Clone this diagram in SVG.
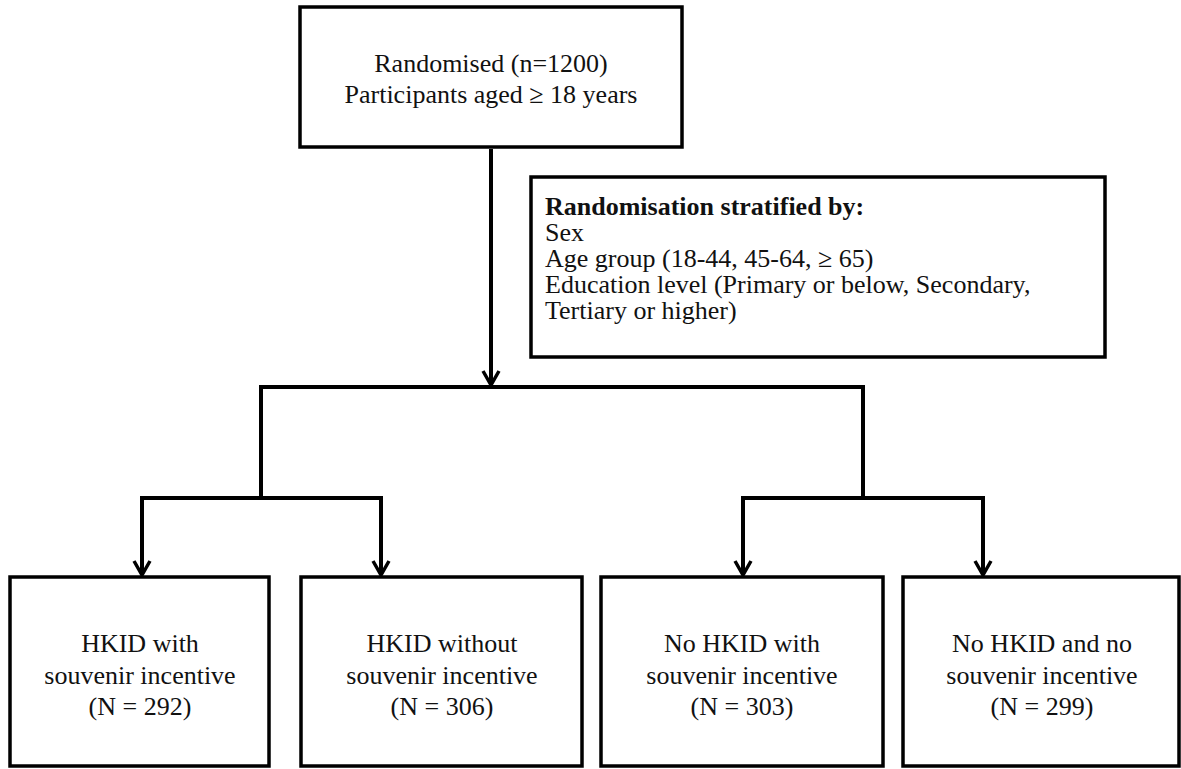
<svg xmlns="http://www.w3.org/2000/svg" width="1181" height="769" viewBox="0 0 1181 769">
  <defs>
    <style>
      .box { fill: #ffffff; stroke: #000000; stroke-width: 3.5; }
      .line { fill: none; stroke: #000000; stroke-width: 4; stroke-linejoin: miter; stroke-linecap: butt; }
      .t { font-family: "Liberation Serif", "DejaVu Serif", "Times New Roman", serif; font-size: 26px; fill: #111111; }
      .c { text-anchor: middle; }
      .b { font-weight: bold; }
    </style>
    <marker id="arr" markerUnits="userSpaceOnUse" markerWidth="22" markerHeight="22" viewBox="0 0 22 22" refX="19" refY="11" orient="auto">
      <path d="M5,3 L19,11 L5,19" fill="none" stroke="#000" stroke-width="3.5" stroke-linejoin="miter"/>
    </marker>
  </defs>
  <rect width="1181" height="769" fill="#ffffff"/>

  <g id="connectors">
    <line class="line" x1="491" y1="149" x2="491" y2="385" marker-end="url(#arr)"/>
    <polyline class="line" points="261,498 261,387 863,387 863,498"/>
    <polyline class="line" points="142,574 142,498 381,498 381,574"/>
    <line class="line" x1="142" y1="560" x2="142" y2="575" marker-end="url(#arr)"/>
    <line class="line" x1="381" y1="560" x2="381" y2="575" marker-end="url(#arr)"/>
    <polyline class="line" points="743,574 743,498 983,498 983,574"/>
    <line class="line" x1="743" y1="560" x2="743" y2="575" marker-end="url(#arr)"/>
    <line class="line" x1="983" y1="560" x2="983" y2="575" marker-end="url(#arr)"/>
  </g>

  <g id="randomised">
    <rect class="box" x="300" y="7" width="382" height="140"/>
    <text class="t c" x="491" y="72">Randomised (n=1200)</text>
    <text class="t c" x="491" y="103">Participants aged ≥ 18 years</text>
  </g>

  <g id="stratification">
    <rect class="box" x="531" y="177" width="574" height="180"/>
    <text class="t b" x="545" y="215">Randomisation stratified by:</text>
    <text class="t" x="545" y="241">Sex</text>
    <text class="t" x="545" y="267">Age group (18-44, 45-64, ≥ 65)</text>
    <text class="t" x="545" y="293">Education level (Primary or below, Secondary,</text>
    <text class="t" x="545" y="319">Tertiary or higher)</text>
  </g>

  <g id="arm1">
    <rect class="box" x="10" y="577" width="259" height="189"/>
    <text class="t c" x="140" y="652">HKID with</text>
    <text class="t c" x="140" y="684">souvenir incentive</text>
    <text class="t c" x="140" y="715">(N = 292)</text>
  </g>

  <g id="arm2">
    <rect class="box" x="301" y="577" width="281" height="189"/>
    <text class="t c" x="442" y="652">HKID without</text>
    <text class="t c" x="442" y="684">souvenir incentive</text>
    <text class="t c" x="442" y="715">(N = 306)</text>
  </g>

  <g id="arm3">
    <rect class="box" x="601" y="577" width="282" height="189"/>
    <text class="t c" x="742" y="652">No HKID with</text>
    <text class="t c" x="742" y="684">souvenir incentive</text>
    <text class="t c" x="742" y="715">(N = 303)</text>
  </g>

  <g id="arm4">
    <rect class="box" x="903" y="577" width="276" height="189"/>
    <text class="t c" x="1042" y="652">No HKID and no</text>
    <text class="t c" x="1042" y="684">souvenir incentive</text>
    <text class="t c" x="1042" y="715">(N = 299)</text>
  </g>
</svg>
